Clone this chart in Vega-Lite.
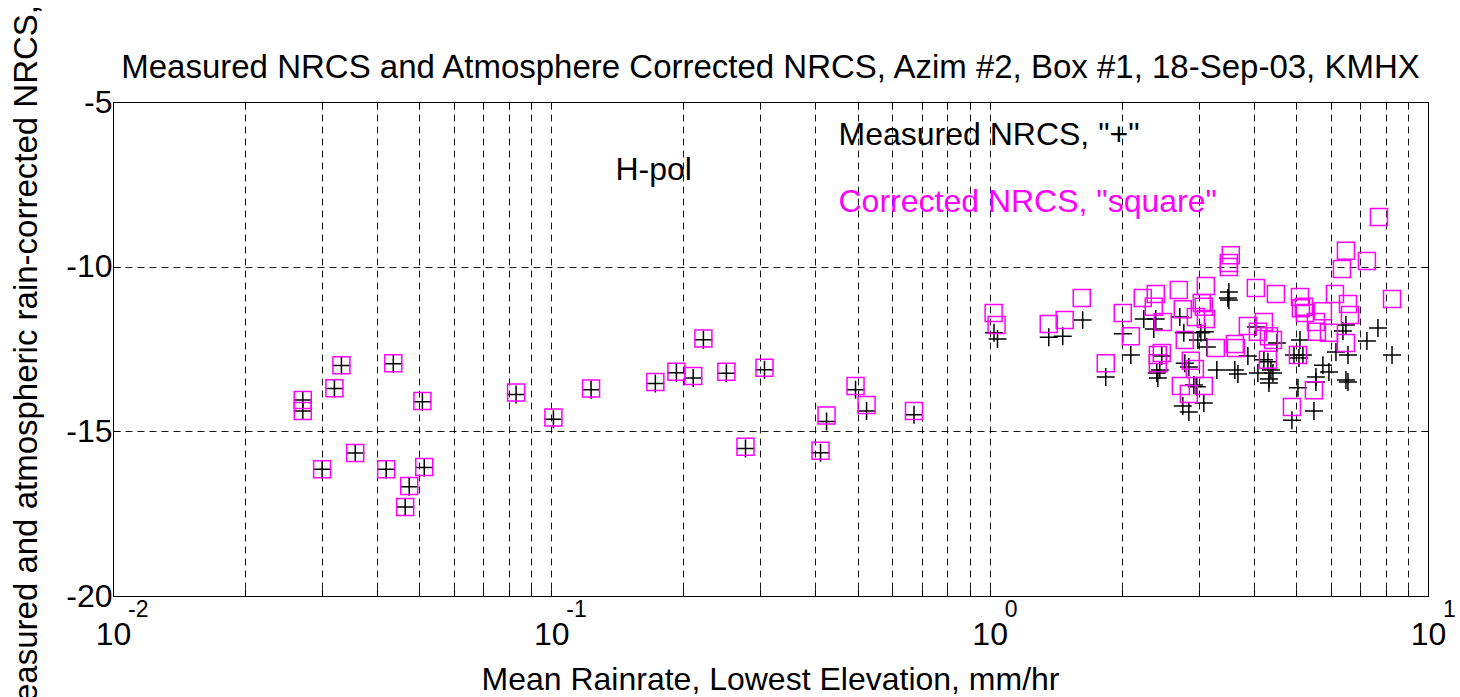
{
  "$schema": "https://vega.github.io/schema/vega-lite/v6.json",
  "width": 1315,
  "height": 494,
  "autosize": {"type": "none"},
  "padding": {"left": 113, "top": 102, "right": 32, "bottom": 101},
  "background": "#ffffff",
  "title": {
    "text": "Measured NRCS and Atmosphere Corrected NRCS, Azim #2, Box #1, 18-Sep-03, KMHX",
    "fontSize": 33, "font": "Liberation Sans", "fontWeight": "normal", "color": "#000000",
    "anchor": "middle", "frame": "group", "baseline": "alphabetic", "offset": 22, "dy": 178
  },
  "datasets": {
    "pts": [
      {"rain": 0.0271, "nrcs": -14.05, "type": "Measured"},
      {"rain": 0.0271, "nrcs": -14.38, "type": "Measured"},
      {"rain": 0.0332, "nrcs": -13.0, "type": "Measured"},
      {"rain": 0.032, "nrcs": -13.7, "type": "Measured"},
      {"rain": 0.0436, "nrcs": -12.95, "type": "Measured"},
      {"rain": 0.0508, "nrcs": -14.1, "type": "Measured"},
      {"rain": 0.0357, "nrcs": -15.66, "type": "Measured"},
      {"rain": 0.03, "nrcs": -16.15, "type": "Measured"},
      {"rain": 0.042, "nrcs": -16.15, "type": "Measured"},
      {"rain": 0.0513, "nrcs": -16.1, "type": "Measured"},
      {"rain": 0.0474, "nrcs": -16.68, "type": "Measured"},
      {"rain": 0.0464, "nrcs": -17.3, "type": "Measured"},
      {"rain": 0.0831, "nrcs": -13.88, "type": "Measured"},
      {"rain": 0.1011, "nrcs": -14.63, "type": "Measured"},
      {"rain": 0.1232, "nrcs": -13.74, "type": "Measured"},
      {"rain": 0.1727, "nrcs": -13.55, "type": "Measured"},
      {"rain": 0.1929, "nrcs": -13.22, "type": "Measured"},
      {"rain": 0.2107, "nrcs": -13.38, "type": "Measured"},
      {"rain": 0.2223, "nrcs": -12.22, "type": "Measured"},
      {"rain": 0.2508, "nrcs": -13.24, "type": "Measured"},
      {"rain": 0.3064, "nrcs": -13.13, "type": "Measured"},
      {"rain": 0.2773, "nrcs": -15.52, "type": "Measured"},
      {"rain": 0.4245, "nrcs": -14.7, "type": "Measured"},
      {"rain": 0.4113, "nrcs": -15.65, "type": "Measured"},
      {"rain": 0.4943, "nrcs": -13.74, "type": "Measured"},
      {"rain": 0.5238, "nrcs": -14.38, "type": "Measured"},
      {"rain": 0.672, "nrcs": -14.5, "type": "Measured"},
      {"rain": 1.023, "nrcs": -12.01, "type": "Measured"},
      {"rain": 1.042, "nrcs": -12.2, "type": "Measured"},
      {"rain": 1.364, "nrcs": -12.14, "type": "Measured"},
      {"rain": 1.468, "nrcs": -12.11, "type": "Measured"},
      {"rain": 1.63, "nrcs": -11.62, "type": "Measured"},
      {"rain": 2.012, "nrcs": -12.04, "type": "Measured"},
      {"rain": 2.099, "nrcs": -12.68, "type": "Measured"},
      {"rain": 1.84, "nrcs": -13.35, "type": "Measured"},
      {"rain": 2.247, "nrcs": -11.59, "type": "Measured"},
      {"rain": 2.393, "nrcs": -11.59, "type": "Measured"},
      {"rain": 2.368, "nrcs": -11.89, "type": "Measured"},
      {"rain": 2.715, "nrcs": -11.53, "type": "Measured"},
      {"rain": 2.773, "nrcs": -12.01, "type": "Measured"},
      {"rain": 3.032, "nrcs": -12.01, "type": "Measured"},
      {"rain": 3.097, "nrcs": -11.98, "type": "Measured"},
      {"rain": 2.985, "nrcs": -12.23, "type": "Measured"},
      {"rain": 3.13, "nrcs": -12.44, "type": "Measured"},
      {"rain": 3.513, "nrcs": -10.77, "type": "Measured"},
      {"rain": 3.494, "nrcs": -10.95, "type": "Measured"},
      {"rain": 3.513, "nrcs": -11.01, "type": "Measured"},
      {"rain": 2.47, "nrcs": -12.71, "type": "Measured"},
      {"rain": 2.444, "nrcs": -13.14, "type": "Measured"},
      {"rain": 2.406, "nrcs": -13.23, "type": "Measured"},
      {"rain": 2.419, "nrcs": -13.38, "type": "Measured"},
      {"rain": 2.787, "nrcs": -12.93, "type": "Measured"},
      {"rain": 2.847, "nrcs": -13.05, "type": "Measured"},
      {"rain": 2.923, "nrcs": -13.59, "type": "Measured"},
      {"rain": 2.969, "nrcs": -13.65, "type": "Measured"},
      {"rain": 3.08, "nrcs": -14.14, "type": "Measured"},
      {"rain": 2.758, "nrcs": -14.23, "type": "Measured"},
      {"rain": 2.847, "nrcs": -14.41, "type": "Measured"},
      {"rain": 3.298, "nrcs": -13.14, "type": "Measured"},
      {"rain": 3.625, "nrcs": -13.14, "type": "Measured"},
      {"rain": 3.684, "nrcs": -13.26, "type": "Measured"},
      {"rain": 3.882, "nrcs": -12.71, "type": "Measured"},
      {"rain": 4.049, "nrcs": -11.83, "type": "Measured"},
      {"rain": 4.223, "nrcs": -12.83, "type": "Measured"},
      {"rain": 4.313, "nrcs": -12.89, "type": "Measured"},
      {"rain": 4.092, "nrcs": -13.23, "type": "Measured"},
      {"rain": 4.336, "nrcs": -13.41, "type": "Measured"},
      {"rain": 4.428, "nrcs": -13.23, "type": "Measured"},
      {"rain": 4.522, "nrcs": -12.32, "type": "Measured"},
      {"rain": 6.498, "nrcs": -11.77, "type": "Measured"},
      {"rain": 6.396, "nrcs": -11.95, "type": "Measured"},
      {"rain": 7.689, "nrcs": -11.86, "type": "Measured"},
      {"rain": 7.255, "nrcs": -12.26, "type": "Measured"},
      {"rain": 8.278, "nrcs": -12.68, "type": "Measured"},
      {"rain": 6.568, "nrcs": -12.68, "type": "Measured"},
      {"rain": 6.166, "nrcs": -12.59, "type": "Measured"},
      {"rain": 5.104, "nrcs": -12.23, "type": "Measured"},
      {"rain": 5.183, "nrcs": -12.68, "type": "Measured"},
      {"rain": 4.945, "nrcs": -12.68, "type": "Measured"},
      {"rain": 5.077, "nrcs": -12.77, "type": "Measured"},
      {"rain": 5.757, "nrcs": -12.99, "type": "Measured"},
      {"rain": 5.943, "nrcs": -13.2, "type": "Measured"},
      {"rain": 5.55, "nrcs": -13.35, "type": "Measured"},
      {"rain": 5.55, "nrcs": -13.5, "type": "Measured"},
      {"rain": 6.568, "nrcs": -13.5, "type": "Measured"},
      {"rain": 6.498, "nrcs": -13.44, "type": "Measured"},
      {"rain": 5.05, "nrcs": -13.68, "type": "Measured"},
      {"rain": 5.492, "nrcs": -14.38, "type": "Measured"},
      {"rain": 4.893, "nrcs": -14.66, "type": "Measured"},
      {"rain": 4.382, "nrcs": -13.14, "type": "Measured"},
      {"rain": 4.336, "nrcs": -13.53, "type": "Measured"},
      {"rain": 0.0271, "nrcs": -14.05, "type": "Corrected"},
      {"rain": 0.0271, "nrcs": -14.38, "type": "Corrected"},
      {"rain": 0.0332, "nrcs": -12.99, "type": "Corrected"},
      {"rain": 0.032, "nrcs": -13.69, "type": "Corrected"},
      {"rain": 0.0436, "nrcs": -12.93, "type": "Corrected"},
      {"rain": 0.0508, "nrcs": -14.08, "type": "Corrected"},
      {"rain": 0.0357, "nrcs": -15.66, "type": "Corrected"},
      {"rain": 0.03, "nrcs": -16.15, "type": "Corrected"},
      {"rain": 0.042, "nrcs": -16.15, "type": "Corrected"},
      {"rain": 0.0513, "nrcs": -16.08, "type": "Corrected"},
      {"rain": 0.0474, "nrcs": -16.66, "type": "Corrected"},
      {"rain": 0.0464, "nrcs": -17.3, "type": "Corrected"},
      {"rain": 0.0831, "nrcs": -13.82, "type": "Corrected"},
      {"rain": 0.1011, "nrcs": -14.58, "type": "Corrected"},
      {"rain": 0.1232, "nrcs": -13.7, "type": "Corrected"},
      {"rain": 0.1727, "nrcs": -13.5, "type": "Corrected"},
      {"rain": 0.1929, "nrcs": -13.19, "type": "Corrected"},
      {"rain": 0.2107, "nrcs": -13.32, "type": "Corrected"},
      {"rain": 0.2223, "nrcs": -12.18, "type": "Corrected"},
      {"rain": 0.2508, "nrcs": -13.19, "type": "Corrected"},
      {"rain": 0.3064, "nrcs": -13.07, "type": "Corrected"},
      {"rain": 0.2773, "nrcs": -15.47, "type": "Corrected"},
      {"rain": 0.4245, "nrcs": -14.52, "type": "Corrected"},
      {"rain": 0.4113, "nrcs": -15.59, "type": "Corrected"},
      {"rain": 0.4943, "nrcs": -13.62, "type": "Corrected"},
      {"rain": 0.5238, "nrcs": -14.2, "type": "Corrected"},
      {"rain": 0.672, "nrcs": -14.38, "type": "Corrected"},
      {"rain": 1.021, "nrcs": -11.41, "type": "Corrected"},
      {"rain": 1.037, "nrcs": -11.77, "type": "Corrected"},
      {"rain": 1.364, "nrcs": -11.74, "type": "Corrected"},
      {"rain": 1.483, "nrcs": -11.62, "type": "Corrected"},
      {"rain": 1.622, "nrcs": -10.95, "type": "Corrected"},
      {"rain": 2.012, "nrcs": -11.41, "type": "Corrected"},
      {"rain": 2.099, "nrcs": -12.11, "type": "Corrected"},
      {"rain": 1.84, "nrcs": -12.93, "type": "Corrected"},
      {"rain": 2.235, "nrcs": -10.95, "type": "Corrected"},
      {"rain": 2.393, "nrcs": -10.83, "type": "Corrected"},
      {"rain": 2.368, "nrcs": -11.22, "type": "Corrected"},
      {"rain": 2.483, "nrcs": -11.68, "type": "Corrected"},
      {"rain": 2.701, "nrcs": -10.71, "type": "Corrected"},
      {"rain": 2.758, "nrcs": -11.29, "type": "Corrected"},
      {"rain": 3.113, "nrcs": -10.59, "type": "Corrected"},
      {"rain": 3.048, "nrcs": -11.1, "type": "Corrected"},
      {"rain": 3.08, "nrcs": -11.22, "type": "Corrected"},
      {"rain": 2.954, "nrcs": -11.53, "type": "Corrected"},
      {"rain": 3.113, "nrcs": -11.59, "type": "Corrected"},
      {"rain": 2.787, "nrcs": -12.23, "type": "Corrected"},
      {"rain": 3.281, "nrcs": -12.47, "type": "Corrected"},
      {"rain": 3.645, "nrcs": -12.47, "type": "Corrected"},
      {"rain": 3.625, "nrcs": -12.35, "type": "Corrected"},
      {"rain": 3.549, "nrcs": -9.65, "type": "Corrected"},
      {"rain": 3.513, "nrcs": -9.89, "type": "Corrected"},
      {"rain": 3.513, "nrcs": -10.01, "type": "Corrected"},
      {"rain": 4.049, "nrcs": -10.65, "type": "Corrected"},
      {"rain": 4.498, "nrcs": -10.83, "type": "Corrected"},
      {"rain": 3.882, "nrcs": -11.8, "type": "Corrected"},
      {"rain": 4.092, "nrcs": -11.98, "type": "Corrected"},
      {"rain": 4.223, "nrcs": -11.68, "type": "Corrected"},
      {"rain": 2.419, "nrcs": -12.68, "type": "Corrected"},
      {"rain": 2.47, "nrcs": -12.62, "type": "Corrected"},
      {"rain": 2.419, "nrcs": -12.93, "type": "Corrected"},
      {"rain": 2.877, "nrcs": -12.86, "type": "Corrected"},
      {"rain": 2.938, "nrcs": -13.11, "type": "Corrected"},
      {"rain": 2.73, "nrcs": -13.62, "type": "Corrected"},
      {"rain": 3.08, "nrcs": -13.62, "type": "Corrected"},
      {"rain": 2.847, "nrcs": -13.87, "type": "Corrected"},
      {"rain": 4.336, "nrcs": -12.11, "type": "Corrected"},
      {"rain": 4.428, "nrcs": -12.23, "type": "Corrected"},
      {"rain": 4.313, "nrcs": -12.83, "type": "Corrected"},
      {"rain": 7.729, "nrcs": -8.49, "type": "Corrected"},
      {"rain": 6.498, "nrcs": -9.52, "type": "Corrected"},
      {"rain": 6.364, "nrcs": -10.07, "type": "Corrected"},
      {"rain": 7.255, "nrcs": -9.83, "type": "Corrected"},
      {"rain": 8.278, "nrcs": -10.98, "type": "Corrected"},
      {"rain": 5.104, "nrcs": -10.92, "type": "Corrected"},
      {"rain": 5.211, "nrcs": -11.22, "type": "Corrected"},
      {"rain": 5.129, "nrcs": -11.26, "type": "Corrected"},
      {"rain": 5.239, "nrcs": -11.41, "type": "Corrected"},
      {"rain": 5.757, "nrcs": -11.35, "type": "Corrected"},
      {"rain": 6.133, "nrcs": -10.83, "type": "Corrected"},
      {"rain": 6.568, "nrcs": -11.13, "type": "Corrected"},
      {"rain": 6.636, "nrcs": -11.47, "type": "Corrected"},
      {"rain": 5.55, "nrcs": -11.68, "type": "Corrected"},
      {"rain": 5.579, "nrcs": -11.98, "type": "Corrected"},
      {"rain": 5.943, "nrcs": -12.01, "type": "Corrected"},
      {"rain": 6.498, "nrcs": -12.32, "type": "Corrected"},
      {"rain": 5.05, "nrcs": -12.68, "type": "Corrected"},
      {"rain": 5.492, "nrcs": -13.75, "type": "Corrected"},
      {"rain": 4.893, "nrcs": -14.26, "type": "Corrected"}
    ]
  },
  "layer": [
    {
      "data": {"name": "pts"},
      "mark": {"type": "point", "filled": false, "strokeWidth": 1.5, "opacity": 1},
      "encoding": {
        "x": {
          "field": "rain", "type": "quantitative",
          "scale": {"type": "log", "domain": [0.01, 10], "nice": false},
          "axis": {
            "values": [0.01, 0.02, 0.03, 0.04, 0.05, 0.06, 0.07, 0.08, 0.09, 0.1, 0.2, 0.3, 0.4, 0.5, 0.6, 0.7, 0.8, 0.9, 1, 2, 3, 4, 5, 6, 7, 8, 9, 10],
            "labelExpr": "(datum.value == 0.01 || datum.value == 0.1 || datum.value == 1 || datum.value == 10) ? '10' : ''",
            "grid": true, "gridDash": [7, 5], "gridColor": "#000000", "gridOpacity": 0.9, "gridWidth": 1,
            "domain": false, "ticks": true, "tickSize": -7, "tickColor": "#000000",
            "labelFont": "Liberation Sans", "labelFontSize": 32, "labelColor": "#000000",
            "labelBaseline": "alphabetic", "labelPadding": 55, "labelFlush": false, "labelOverlap": false, "labelDx": -3,
            "title": "Mean Rainrate, Lowest Elevation, mm/hr",
            "titleFont": "Liberation Sans", "titleFontSize": 32, "titleFontWeight": "normal", "titleColor": "#000000",
            "titleBaseline": "alphabetic", "titleY": 93, "titleX": 657
          }
        },
        "y": {
          "field": "nrcs", "type": "quantitative",
          "scale": {"domain": [-20, -5], "nice": false, "zero": false},
          "axis": {
            "values": [-20, -15, -10, -5],
            "labelExpr": "'' + datum.value",
            "grid": true, "gridDash": [7, 5], "gridColor": "#000000", "gridOpacity": 0.9, "gridWidth": 1,
            "domain": false, "ticks": true, "tickSize": -7, "tickColor": "#000000",
            "labelFont": "Liberation Sans", "labelFontSize": 32, "labelColor": "#000000",
            "labelPadding": 8, "labelBaseline": "middle",
            "title": "Measured and atmospheric rain-corrected NRCS, dB",
            "titleFont": "Liberation Sans", "titleFontSize": 33, "titleFontWeight": "normal", "titleColor": "#000000",
            "titleAngle": -90, "titleBaseline": "alphabetic", "titleX": -77, "titleY": 240
          }
        },
        "shape": {"field": "type", "type": "nominal", "scale": {"domain": ["Measured", "Corrected"], "range": ["M-1,0L1,0M0,-1L0,1", "square"]}, "legend": null},
        "color": {"field": "type", "type": "nominal", "scale": {"domain": ["Measured", "Corrected"], "range": ["#000000", "#ff00ff"]}, "legend": null},
        "size": {"field": "type", "type": "nominal", "scale": {"domain": ["Measured", "Corrected"], "range": [324, 289]}, "legend": null}
      }
    },
    {
      "data": {"values": [{"rain": 0.14, "nrcs": -7.07, "label": "H-pol"}]},
      "mark": {"type": "text", "align": "left", "baseline": "middle", "font": "Liberation Sans", "fontSize": 32, "color": "#000000"},
      "encoding": {
        "x": {"field": "rain", "type": "quantitative", "axis": {"orient": "top", "values": [0.01, 0.02, 0.03, 0.04, 0.05, 0.06, 0.07, 0.08, 0.09, 0.1, 0.2, 0.3, 0.4, 0.5, 0.6, 0.7, 0.8, 0.9, 1, 2, 3, 4, 5, 6, 7, 8, 9, 10], "labels": false, "grid": false, "domain": false, "tickSize": -7, "tickColor": "#000000", "title": null}},
        "y": {"field": "nrcs", "type": "quantitative", "axis": {"orient": "right", "values": [-20, -15, -10, -5], "labels": false, "grid": false, "domain": false, "tickSize": -7, "tickColor": "#000000", "title": null}},
        "text": {"field": "label"}
      }
    },
    {
      "data": {"values": [{"rain": 0.452, "nrcs": -6.0, "label": "Measured NRCS, \"+\""}]},
      "mark": {"type": "text", "align": "left", "baseline": "middle", "font": "Liberation Sans", "fontSize": 32, "color": "#000000"},
      "encoding": {
        "x": {"field": "rain", "type": "quantitative", "axis": null},
        "y": {"field": "nrcs", "type": "quantitative", "axis": null},
        "text": {"field": "label"}
      }
    },
    {
      "data": {"values": [{"rain": 0.452, "nrcs": -8.04, "label": "Corrected NRCS, \"square\""}]},
      "mark": {"type": "text", "align": "left", "baseline": "middle", "font": "Liberation Sans", "fontSize": 32, "color": "#ff00ff"},
      "encoding": {
        "x": {"field": "rain", "type": "quantitative", "axis": null},
        "y": {"field": "nrcs", "type": "quantitative", "axis": null},
        "text": {"field": "label"}
      }
    },
    {
      "data": {"values": [{"rain": 0.01, "e": "-2"}, {"rain": 0.1, "e": "-1"}, {"rain": 1, "e": "0"}, {"rain": 10, "e": "1"}]},
      "mark": {"type": "text", "align": "left", "baseline": "alphabetic", "font": "Liberation Sans", "fontSize": 23, "color": "#000000", "dx": 15, "dy": 21},
      "encoding": {
        "x": {"field": "rain", "type": "quantitative", "axis": null},
        "y": {"datum": -20, "type": "quantitative", "axis": null},
        "text": {"field": "e"}
      }
    }
  ],
  "resolve": {"axis": {"x": "independent", "y": "independent"}},
  "config": {
    "view": {"stroke": "#000000", "strokeWidth": 1},
    "font": "Liberation Sans"
  }
}
